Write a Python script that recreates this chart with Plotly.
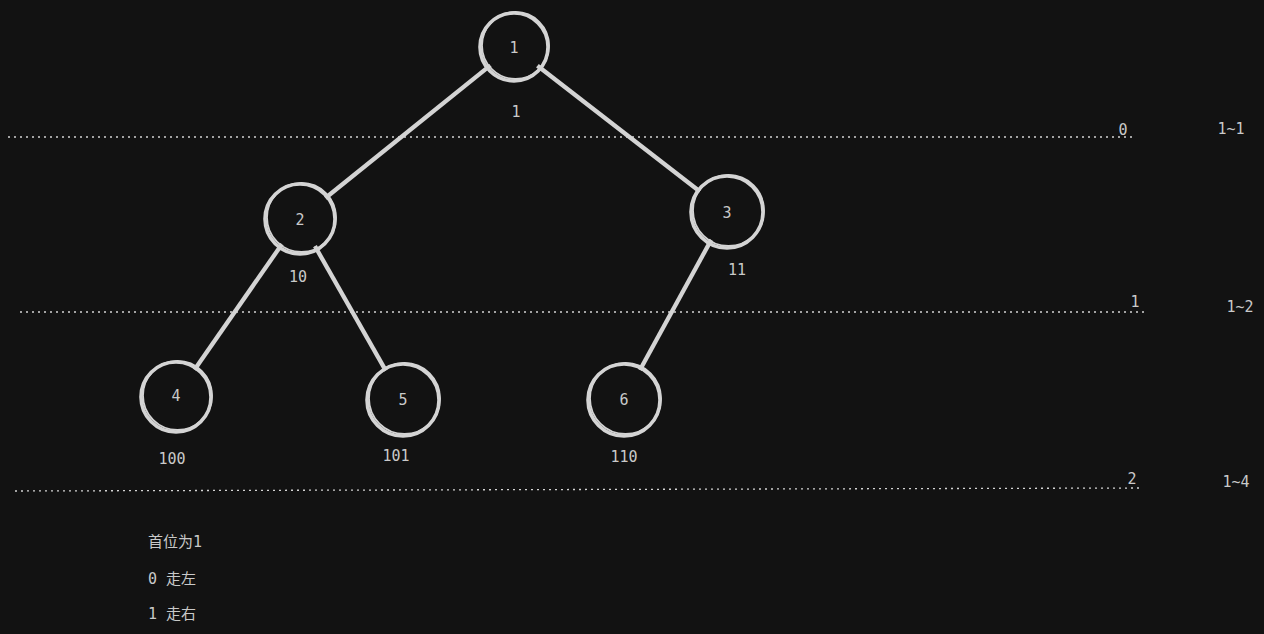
import plotly.graph_objects as go

# Data
node_labels = ["1", "2", "3", "4", "5", "6"]
node_x = [514, 300, 727, 176, 403, 624]
node_y = [47, 219, 212, 397, 400, 400]
node_r = [34, 35, 36, 35, 36, 36]
node_text_y = [49, 221, 214, 397, 401, 401]

code_labels = ["1", "10", "11", "100", "101", "110"]
code_x = [516, 298, 737, 172, 396, 624]
code_y = [113, 278, 271, 460, 457, 458]

edges = [(0, 1), (0, 2), (1, 3), (1, 4), (2, 5)]

level_y_left = [137, 312, 491]
level_y_right = [137, 312, 488]
level_x0 = [8, 20, 15]
level_x1 = [1133, 1145, 1140]
level_labels = ["0", "1", "2"]
level_label_x = [1123, 1135, 1132]
level_label_y = [131, 303, 480]
range_labels = ["1~1", "1~2", "1~4"]
range_label_x = [1231, 1240, 1236]
range_label_y = [130, 308, 483]

note_labels = ["首位为1", "0 走左", "1 走右"]
note_x = [148, 148, 148]
note_y = [543, 580, 615]

FG = "#d4d4d4"
TXT = "#c9c9c9"
BG = "#121212"
FONT = "DejaVu Sans Mono, Noto Sans CJK SC, monospace"
FS = 15

fig = go.Figure()
shapes = []

# edges (double strokes for a sketch look)
for a, b in edges:
    ax, ay, ar = node_x[a], node_y[a], node_r[a]
    bx, by, br = node_x[b], node_y[b], node_r[b]
    dx, dy = bx - ax, by - ay
    d = (dx * dx + dy * dy) ** 0.5
    ux, uy = dx / d, dy / d
    x0, y0 = ax + ux * (ar - 4), ay + uy * (ar - 4)
    x1, y1 = bx - ux * (br - 2), by - uy * (br - 2)
    for off, w in [(0, 3.4), (1.8, 1.6)]:
        shapes.append(dict(type="line", xref="x", yref="y", layer="below",
                           x0=x0 + off * -uy, y0=y0 + off * ux,
                           x1=x1 + off * -uy, y1=y1 + off * ux,
                           line=dict(color=FG, width=w)))

# nodes (two slightly offset circles)
for x, y, r in zip(node_x, node_y, node_r):
    shapes.append(dict(type="circle", xref="x", yref="y", layer="below",
                       x0=x - r, x1=x + r, y0=y - r, y1=y + r,
                       line=dict(color=FG, width=3.6)))
    shapes.append(dict(type="circle", xref="x", yref="y", layer="below",
                       x0=x - r + 2, x1=x + r + 1, y0=y - r - 1, y1=y + r - 2,
                       line=dict(color=FG, width=1.8)))

# level lines
for x0, x1, y0, y1 in zip(level_x0, level_x1, level_y_left, level_y_right):
    shapes.append(dict(type="line", xref="x", yref="y", layer="below",
                       x0=x0, x1=x1, y0=y0, y1=y1,
                       line=dict(color=FG, width=1.3, dash="2px,4px")))

for xs, ys, ts in [(node_x, node_text_y, node_labels), (code_x, code_y, code_labels),
                   (level_label_x, level_label_y, level_labels),
                   (range_label_x, range_label_y, range_labels)]:
    fig.add_trace(go.Scatter(x=xs, y=ys, mode="text", text=ts,
                             textfont=dict(color=TXT, size=FS, family=FONT), hoverinfo="skip"))
fig.add_trace(go.Scatter(x=note_x, y=note_y, mode="text", text=note_labels,
                         textposition="middle right",
                         textfont=dict(color=TXT, size=FS, family=FONT), hoverinfo="skip"))

fig.update_layout(
    width=1264, height=634,
    margin=dict(l=0, r=0, t=0, b=0),
    paper_bgcolor=BG, plot_bgcolor=BG,
    showlegend=False,
    shapes=shapes,
    xaxis=dict(range=[0, 1264], visible=False, fixedrange=True),
    yaxis=dict(range=[634, 0], visible=False, fixedrange=True),
)

fig.write_html(
    "out.html",
    config={"displayModeBar": False},
    post_script="document.body.style.margin='0';document.body.style.background='#121212';document.body.style.overflow='hidden';",
)
